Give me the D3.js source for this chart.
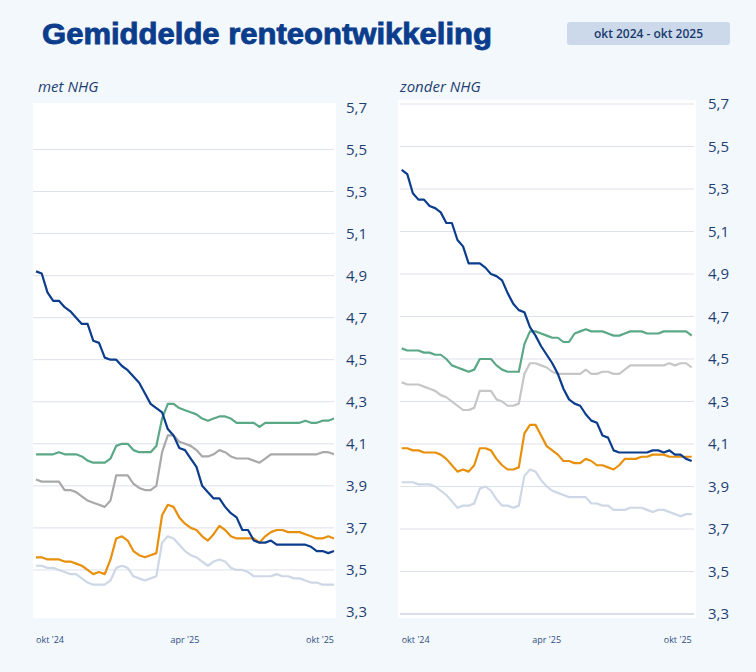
<!DOCTYPE html>
<html>
<head>
<meta charset="utf-8">
<script src="https://cdnjs.cloudflare.com/ajax/libs/d3/7.8.5/d3.min.js"></script>
<style>
    body { margin: 0; background: #ffffff; }
    text { font-family: "Open Sans", "Noto Sans", sans-serif; }
</style>
</head>
<body>
<div id="chart"></div>
<script>

// weekly values, okt 2024 - okt 2025 (53 weeks)
let weeks = d3.range(53);
let tickWeeks = [0, 26, 52];
let tickLabels = ["okt '24", "apr '25", "okt '25"];
let yTicks = [5.7, 5.5, 5.3, 5.1, 4.9, 4.7, 4.5, 4.3, 4.1, 3.9, 3.7, 3.5, 3.3];

// met NHG
let metBlue = [4.92,4.91,4.82,4.78,4.78,4.75,4.73,4.70,4.67,4.67, 4.59,4.58,4.51,4.50,4.50,4.47,4.45,4.42,4.39,4.34,
    4.29,4.27,4.25,4.17,4.14,4.08, 4.07,4.03,3.99,3.90,3.87,3.84,3.84,3.80,3.77,3.75, 3.69,3.69,3.64,3.63,3.63,3.64,3.62,3.62,3.62,3.62,
    3.62,3.62,3.61,3.59,3.59,3.58,3.59];
let metGreen = [4.05,4.05,4.05,4.05,4.06,4.05,4.05,4.05,4.04,4.02, 4.01,4.01,4.01,4.03,4.09,4.10,4.10,4.07,4.06,4.06,
    4.06,4.09,4.22,4.29,4.29,4.27, 4.26,4.25,4.24,4.22,4.21,4.22,4.23,4.23,4.22,4.20, 4.20,4.20,4.20,4.18,4.20,4.20,4.20,4.20,4.20,4.20,
    4.20,4.21,4.20,4.20,4.21,4.21,4.22];
let metGray = [3.93,3.92,3.92,3.92,3.92,3.88,3.88,3.87,3.85,3.83, 3.82,3.81,3.80,3.83,3.95,3.95,3.95,3.91,3.89,3.88,
    3.88,3.90,4.06,4.14,4.14,4.11, 4.10,4.09,4.07,4.04,4.04,4.05,4.07,4.06,4.04,4.03, 4.03,4.03,4.02,4.01,4.03,4.05,4.05,4.05,4.05,4.05,
    4.05,4.05,4.05,4.05,4.06,4.06,4.05];
let metOrange = [3.56,3.56,3.55,3.55,3.55,3.54,3.54,3.53,3.52,3.50, 3.48,3.49,3.48,3.55,3.65,3.66,3.64,3.59,3.57,3.56,
    3.57,3.58,3.76,3.81,3.80,3.75, 3.72,3.70,3.69,3.66,3.64,3.67,3.71,3.69,3.66,3.65, 3.65,3.65,3.65,3.63,3.66,3.68,3.69,3.69,3.68,3.68,
    3.68,3.67,3.66,3.65,3.65,3.66,3.65];
let metLight = [3.52,3.52,3.51,3.51,3.50,3.49,3.48,3.48,3.46,3.44, 3.43,3.43,3.43,3.45,3.51,3.52,3.51,3.47,3.46,3.45,
    3.46,3.47,3.63,3.66,3.65,3.62, 3.59,3.57,3.56,3.54,3.52,3.54,3.55,3.54,3.51,3.50, 3.50,3.49,3.47,3.47,3.47,3.47,3.48,3.47,3.47,3.46,
    3.46,3.45,3.44,3.44,3.43,3.43,3.43];

// zonder NHG
let zBlue = [5.39,5.37,5.28,5.25,5.25,5.22,5.21,5.19,5.14,5.14, 5.06,5.03,4.95,4.95,4.95,4.93,4.90,4.89,4.87,4.81,
    4.76,4.73,4.72,4.65,4.61,4.56, 4.52,4.48,4.43,4.36,4.31,4.29,4.28,4.24,4.21,4.20, 4.14,4.13,4.07,4.06,4.06,4.06,4.06,4.06,4.06,4.07,
    4.07,4.06,4.07,4.05,4.05,4.03,4.02];
let zGreen = [4.55,4.54,4.54,4.54,4.53,4.53,4.52,4.52,4.50,4.47, 4.46,4.45,4.44,4.45,4.50,4.50,4.50,4.47,4.45,4.44,
    4.44,4.44,4.57,4.63,4.63,4.62, 4.61,4.60,4.60,4.58,4.58,4.62,4.63,4.64,4.63,4.63, 4.63,4.62,4.61,4.61,4.62,4.63,4.63,4.63,4.62,4.62,
    4.62,4.63,4.63,4.63,4.63,4.63,4.61];
let zGray = [4.39,4.38,4.38,4.38,4.37,4.36,4.35,4.33,4.32,4.30, 4.28,4.26,4.26,4.27,4.35,4.35,4.35,4.31,4.30,4.28,
    4.28,4.29,4.43,4.48,4.48,4.47, 4.46,4.44,4.43,4.43,4.43,4.43,4.43,4.45,4.43,4.43, 4.44,4.44,4.43,4.43,4.45,4.47,4.47,4.47,4.47,4.47,
    4.47,4.47,4.48,4.47,4.48,4.48,4.46];
let zOrange = [4.08,4.08,4.07,4.07,4.06,4.06,4.06,4.05,4.03,4.00, 3.97,3.98,3.97,4.00,4.08,4.08,4.07,4.03,4.00,3.98,
    3.98,3.99,4.15,4.19,4.19,4.14, 4.09,4.07,4.05,4.02,4.02,4.01,4.01,4.03,4.02,4.00, 4.00,3.99,3.98,4.00,4.03,4.03,4.03,4.04,4.04,4.05,
    4.05,4.05,4.04,4.04,4.04,4.04,4.04];
let zLight = [3.92,3.92,3.92,3.91,3.91,3.91,3.90,3.88,3.86,3.83, 3.80,3.81,3.81,3.82,3.89,3.90,3.88,3.84,3.81,3.81,
    3.80,3.81,3.95,3.98,3.97,3.93, 3.90,3.88,3.87,3.86,3.85,3.85,3.85,3.85,3.82,3.82, 3.81,3.81,3.79,3.79,3.79,3.80,3.80,3.80,3.79,3.78,
    3.79,3.79,3.78,3.77,3.76,3.77,3.77];

let navy = "#0b3d8c";


class ratePanel {

    constructor(svg, title, series, colors, box){
        this.svg = svg;
        this.title = title;
        this.series = series;
        this.colors = colors;
        this.box = box;

        this.initVis();
    }

    initVis(){
        let vis = this;
        let b = vis.box;

        vis.g = vis.svg.append("g");

        // white plot area
        vis.g.append("rect")
            .attr("x", b.bgX)
            .attr("y", b.bgY)
            .attr("width", b.bgW)
            .attr("height", b.bgH)
            .attr("fill", "#ffffff");

        vis.g.append("text")
            .text(vis.title)
            .attr("x", b.titleX)
            .attr("y", 92)
            .attr("fill", "#1f3f73")
            .style("font-style", "italic")
            .style("font-size", "15px");

        vis.x = d3.scaleLinear()
            .domain([0, 52])
            .range([b.x0, b.x1]);

        vis.y = d3.scaleLinear()
            .domain([3.3, 5.7])
            .range([b.y0, b.y1]);

        // gridlines
        vis.g.selectAll("line.grid")
            .data(b.gridAll ? yTicks : yTicks.slice(1, -1))
            .enter()
            .append("line")
            .attr("class", "grid")
            .attr("x1", b.gx0)
            .attr("x2", b.gx1)
            .attr("y1", d => vis.y(d))
            .attr("y2", d => vis.y(d))
            .attr("stroke", (d) => (d === 3.3 ? "#cdd4e3" : "#dde1ec"))
            .attr("stroke-width", (d) => (d === 3.3 ? 1.5 : 1));

        // y labels on the right
        vis.g.selectAll("text.ylab")
            .data(yTicks)
            .enter()
            .append("text")
            .attr("class", "ylab")
            .attr("x", b.labX)
            .attr("y", d => vis.y(d))
            .attr("dy", "0.36em")
            .attr("fill", "#1f3f73")
            .style("font-size", "15px")
            .text(d => d3.format(".1f")(d).replace(".", ","));

        // x labels
        vis.g.selectAll("text.xlab")
            .data(tickWeeks)
            .enter()
            .append("text")
            .attr("class", "xlab")
            .attr("x", d => vis.x(d))
            .attr("y", 643)
            .attr("text-anchor", (d, i) => (i === 0 ? "start" : (i === 1 ? "middle" : "end")))
            .attr("fill", "#2f4f80")
            .style("font-size", "9px")
            .text((d, i) => tickLabels[i]);

        vis.line = d3.line()
            .x((d, i) => vis.x(weeks[i]))
            .y(d => vis.y(d));

        vis.g.selectAll("path.rate")
            .data(vis.series)
            .enter()
            .append("path")
            .attr("class", "rate")
            .attr("d", d => vis.line(d))
            .attr("fill", "none")
            .attr("stroke", (d, i) => vis.colors[i])
            .attr("stroke-width", 2.2)
            .attr("stroke-linejoin", "round");
    }
}


let svg = d3.select("#chart").append("svg")
    .attr("width", 756)
    .attr("height", 672);

svg.append("rect")
    .attr("width", 756)
    .attr("height", 672)
    .attr("fill", "#f3f8fd");

svg.append("text")
    .text("Gemiddelde renteontwikkeling")
    .attr("x", 42)
    .attr("y", 44)
    .attr("fill", navy)
    .attr("stroke", navy)
    .attr("stroke-width", 0.9)
    .attr("textLength", 450)
    .attr("lengthAdjust", "spacingAndGlyphs")
    .style("font-family", "'Liberation Sans', Arial, sans-serif")
    .style("font-weight", "bold")
    .style("font-size", "30px");

svg.append("rect")
    .attr("x", 567)
    .attr("y", 22)
    .attr("width", 163)
    .attr("height", 23)
    .attr("rx", 3)
    .attr("fill", "#ccd9ea");

svg.append("text")
    .text("okt 2024 - okt 2025")
    .attr("x", 648.5)
    .attr("y", 33.5)
    .attr("dy", "0.36em")
    .attr("text-anchor", "middle")
    .attr("fill", "#1a3a6e")
    .style("font-weight", "600")
    .style("font-size", "12px");

new ratePanel(svg, "met NHG",
    [metLight, metOrange, metGray, metGreen, metBlue],
    ["#cdd7e6", "#e8900c", "#a9a9a9", "#5aa886", navy],
    {bgX: 33, bgY: 103, bgW: 303, bgH: 515, titleX: 38, x0: 36, x1: 334, y0: 612, y1: 107.4,
     gx0: 33, gx1: 334, labX: 346, gridAll: false});

new ratePanel(svg, "zonder NHG",
    [zLight, zOrange, zGray, zGreen, zBlue],
    ["#cdd7e6", "#e8900c", "#c6c6c6", "#5aa886", navy],
    {bgX: 398, bgY: 100, bgW: 298, bgH: 518, titleX: 400, x0: 401.7, x1: 691.7, y0: 614, y1: 104,
     gx0: 400, gx1: 694, labX: 708, gridAll: true});

</script>
</body>
</html>
